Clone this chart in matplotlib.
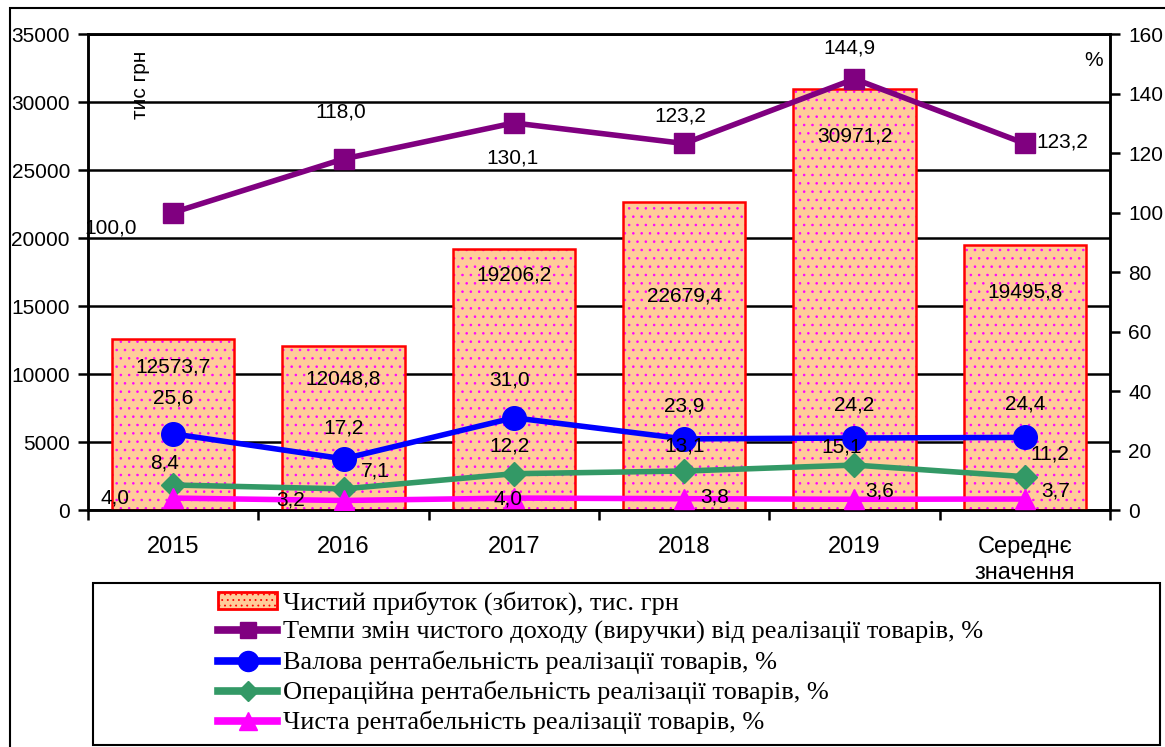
import matplotlib
matplotlib.use('Agg')
import matplotlib.pyplot as plt
from matplotlib.lines import Line2D
from matplotlib.patches import Patch, Rectangle

# data
categories = ['2015', '2016', '2017', '2018', '2019', 'Середнє\nзначення']
profit = [12573.7, 12048.8, 19206.2, 22679.4, 30971.2, 19495.8]
revenue_rate = [100.0, 118.0, 130.1, 123.2, 144.9, 123.2]
gross_margin = [25.6, 17.2, 31.0, 23.9, 24.2, 24.4]
oper_margin = [8.4, 7.1, 12.2, 13.1, 15.1, 11.2]
net_margin = [4.0, 3.2, 4.0, 3.8, 3.6, 3.7]

legend_labels = ['Чистий прибуток (збиток), тис. грн',
                 'Темпи змін чистого доходу (виручки) від реалізації товарів, %',
                 'Валова рентабельність реалізації товарів, %',
                 'Операційна рентабельність реалізації товарів, %',
                 'Чиста рентабельність реалізації товарів, %']

# label offsets in points (dx, dy) for each point
profit_off = [(0, -13), (0, -17), (0, -12), (0, -61), (0, -27), (0, -27)]
rate_off = [(-45, -11), (-2, 34), (-1, -25), (-3, 20), (-4, 22), (27, 1)]
gross_off = [(0, 26), (0, 22), (-3, 27), (0, 24), (0, 24), (0, 24)]
oper_off = [(-6, 16), (23, 13), (-3, 20), (0, 18), (-9, 13), (18, 16)]
net_off = [(-42, 0), (-38, 0), (-4, -1), (22, 1), (18, 6), (22, 6)]

plt.rcParams['font.family'] = ['Liberation Sans', 'DejaVu Sans']
plt.rcParams['font.size'] = 15
plt.rcParams['hatch.linewidth'] = 0.6

fig = plt.figure(figsize=(11.65, 7.47), dpi=100)
ax = fig.add_axes([88 / 1165, 1 - 510 / 747, (1110 - 88) / 1165, (510 - 34) / 747])
x = list(range(len(categories)))

# bars: dotted fill with magenta hatch, red border on top
ax.bar(x, profit, width=0.72, color='#FFCC99', hatch='..', edgecolor='#FF00FF',
       linewidth=0, zorder=2)
ax.bar(x, profit, width=0.72, fill=False, edgecolor='#FF0000', linewidth=1.8, zorder=3)
for i, v in enumerate(profit):
    ax.annotate(f'{v:.1f}'.replace('.', ','), (x[i], v), xytext=profit_off[i],
                textcoords='offset points', ha='center', va='top', zorder=6)

ax.set_ylim(0, 35000)
ax.set_xlim(-0.5, 5.5)
ax.set_yticks(range(0, 35001, 5000))
ax.yaxis.grid(True, color='black', linewidth=1.8)
ax.set_axisbelow(True)
ax.set_xticks(x)
ax.set_xticklabels(categories, fontsize=17)
ax.set_xticks([i + 0.5 for i in range(-1, 6)], minor=True)
ax.tick_params(axis='x', which='major', length=0, pad=19)
ax.tick_params(axis='x', which='minor', length=7, width=1.8, direction='out')
ax.tick_params(axis='y', length=7, width=1.8, direction='out', pad=6)
for s in ax.spines.values():
    s.set_linewidth(1.8)
ax.text(0.051, 0.893, 'тис грн', transform=ax.transAxes, rotation=90,
        ha='center', va='center')

ax2 = ax.twinx()
ax2.set_ylim(0, 160)
ax2.set_yticks(range(0, 161, 20))
ax2.tick_params(axis='y', length=7, width=1.8, direction='out', pad=6)
ax2.text(0.984, 0.945, '%', transform=ax2.transAxes, ha='center', va='center')
for s in ax2.spines.values():
    s.set_linewidth(1.8)

series = [
    (revenue_rate, '#800080', 's', 14, rate_off),
    (gross_margin, '#0000FF', 'o', 17, gross_off),
    (oper_margin, '#339966', 'D', 12, oper_off),
    (net_margin, '#FF00FF', '^', 15, net_off),
]
for vals, col, mk, ms, offs in series:
    ax2.plot(x, vals, color=col, marker=mk, markersize=ms, linewidth=4, zorder=4)
    for i, v in enumerate(vals):
        ax2.annotate(f'{v:.1f}'.replace('.', ','), (x[i], v), xytext=offs[i],
                     textcoords='offset points', ha='center', va='center', zorder=6)

# outer frame and legend box
fig.patches.append(Rectangle((10 / 1165, -0.01), 1.05, 1 - 8 / 747 + 0.01,
                             transform=fig.transFigure, fill=False,
                             edgecolor='black', linewidth=1.5))
fig.patches.append(Rectangle((93 / 1165, 2 / 747), (1160 - 93) / 1165, (745 - 583) / 747,
                             transform=fig.transFigure, fill=False,
                             edgecolor='black', linewidth=1.5))

handles = [Patch(facecolor='#FFCC99', hatch='...', edgecolor='#FF0000', linewidth=2)]
for vals, col, mk, ms, offs in series:
    handles.append(Line2D([], [], color=col, marker=mk, markersize=ms * 0.85, linewidth=5.5))
leg = fig.legend(handles, legend_labels, loc='upper left',
                 bbox_to_anchor=(218 / 1165, 1 - 591 / 747), frameon=False,
                 prop={'family': 'Liberation Serif', 'size': 19},
                 handlelength=2.24, handleheight=0.6, handletextpad=0.23,
                 labelspacing=0.245, borderpad=0, borderaxespad=0)

fig.savefig('out.png', dpi=100)
